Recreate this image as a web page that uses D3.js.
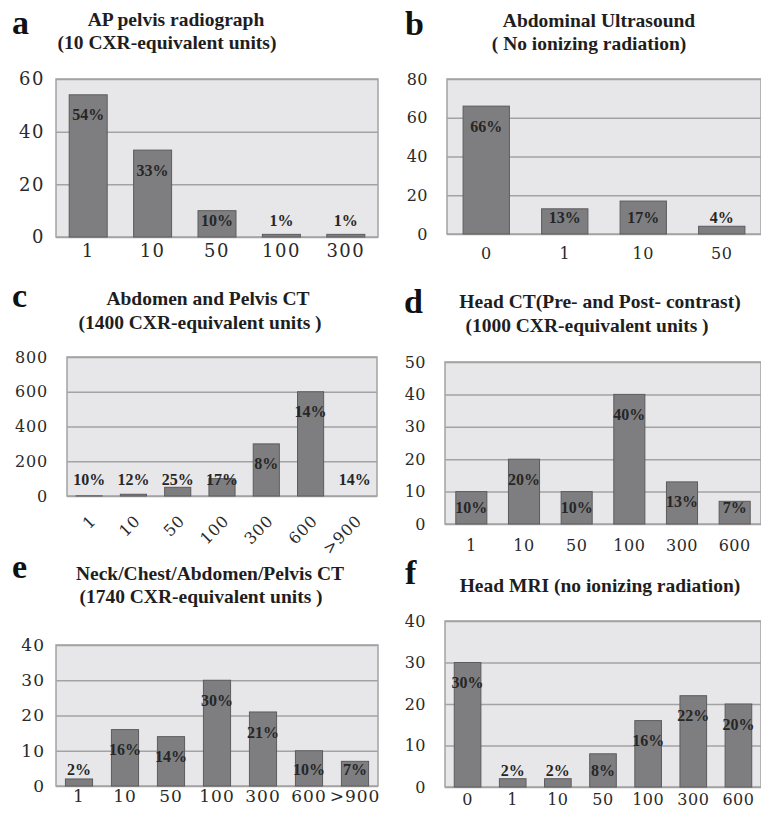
<!DOCTYPE html>
<html>
<head>
<meta charset="utf-8">
<script src="https://cdn.jsdelivr.net/npm/d3@7"></script>
<style>
  body { margin: 0; background: #fff; }
  svg { display: block; }
</style>
</head>
<body>
<svg width="761" height="819"></svg>
<script>
// panel a
var catA = ["1", "10", "50", "100", "300"],
    valA = [54, 33, 10, 1, 1],
    labA = ["54%", "33%", "10%", "1%", "1%"],
    tickA = [0, 20, 40, 60];
// panel b
var catB = ["0", "1", "10", "50"],
    valB = [66, 13, 17, 4],
    labB = ["66%", "13%", "17%", "4%"],
    tickB = [0, 20, 40, 60, 80];
// panel c
var catC = ["1", "10", "50", "100", "300", "600", ">900"],
    valC = [1, 10, 50, 100, 300, 600, 0],
    labC = ["10%", "12%", "25%", "17%", "8%", "14%", "14%"],
    tickC = [0, 200, 400, 600, 800];
// panel d
var catD = ["1", "10", "50", "100", "300", "600"],
    valD = [10, 20, 10, 40, 13, 7],
    labD = ["10%", "20%", "10%", "40%", "13%", "7%"],
    tickD = [0, 10, 20, 30, 40, 50];
// panel e
var catE = ["1", "10", "50", "100", "300", "600", ">900"],
    valE = [2, 16, 14, 30, 21, 10, 7],
    labE = ["2%", "16%", "14%", "30%", "21%", "10%", "7%"],
    tickE = [0, 10, 20, 30, 40];
// panel f
var catF = ["0", "1", "10", "50", "100", "300", "600"],
    valF = [30, 2, 2, 8, 16, 22, 20],
    labF = ["30%", "2%", "2%", "8%", "16%", "22%", "20%"],
    tickF = [0, 10, 20, 30, 40];

var svg = d3.select("svg");
svg.append("rect").attr("width", 761).attr("height", 819).attr("fill", "#fff");

var tickFont = "'DejaVu Serif', serif",
    boldFont = "'Liberation Serif', 'Times New Roman', serif";

var panels = [
  {letter: "a", lx: 12, ly: 34, titles: [["AP pelvis radiograph", 176, 26], ["(10 CXR-equivalent units)", 167, 49]],
   left: 56, right: 378, top: 79, bottom: 237, cats: catA, vals: valA, labs: labA, ticks: tickA, xpad: 19, ypad: 11, fs: 18, ls: 1.5},
  {letter: "b", lx: 405, ly: 35, titles: [["Abdominal Ultrasound", 599, 27], ["( No ionizing radiation)", 589, 50]],
   left: 447, right: 761, top: 79, bottom: 234, cats: catB, vals: valB, labs: labB, ticks: tickB, xpad: 24, ypad: 19, fs: 16, ls: 0.5},
  {letter: "c", lx: 12, ly: 307, titles: [["Abdomen and Pelvis CT", 208, 305], ["(1400 CXR-equivalent units )", 200, 329]],
   left: 67, right: 377, top: 357, bottom: 496, cats: catC, vals: valC, labs: labC, ticks: tickC, rotate: true, ypad: 19, fs: 16, ls: 0.8},
  {letter: "d", lx: 404, ly: 313, titles: [["Head CT(Pre- and Post- contrast)", 600, 308], [" (1000 CXR-equivalent units )", 587, 332]],
   left: 445, right: 761, top: 362, bottom: 524, cats: catD, vals: valD, labs: labD, ticks: tickD, xpad: 26, ypad: 19, fs: 16, ls: 0.5},
  {letter: "e", lx: 12, ly: 578, titles: [["Neck/Chest/Abdomen/Pelvis CT", 210, 580], ["(1740 CXR-equivalent units )", 201, 603]],
   left: 56, right: 378, top: 645, bottom: 786, cats: catE, vals: valE, labs: labE, ticks: tickE, xpad: 15, ypad: 11, fs: 17, ls: 1},
  {letter: "f", lx: 405, ly: 584, titles: [["Head MRI (no ionizing radiation)", 600, 592]],
   left: 445, right: 761, top: 621, bottom: 787, cats: catF, vals: valF, labs: labF, ticks: tickF, xpad: 17, ypad: 19, fs: 16, ls: 0.5}
];

function drawPanel(p) {
  var w = p.right - p.left, h = p.bottom - p.top;
  var g = svg.append("g").attr("transform", "translate(" + p.left + "," + p.top + ")");

  var x = d3.scaleBand().domain(p.cats).range([0, w]).paddingInner(0.41).paddingOuter(0.205);
  var y = d3.scaleLinear().domain([0, d3.max(p.ticks)]).range([h, 0]);

  g.append("rect").attr("width", w).attr("height", h)
    .attr("fill", "#e7e7e9").attr("stroke", "#a3a3a3").attr("stroke-width", 1.5);

  // gridlines
  var grid = g.append("g").call(d3.axisLeft(y).tickValues(p.ticks).tickSize(-w).tickFormat(""));
  grid.select(".domain").remove();
  grid.selectAll("line").attr("stroke", "#a3a3a3").attr("stroke-width", 1.5);

  // y labels
  var ya = g.append("g").call(d3.axisLeft(y).tickValues(p.ticks).tickSize(0).tickPadding(p.ypad));
  ya.select(".domain").remove();
  ya.selectAll("text").attr("font-family", tickFont).attr("font-size", p.fs)
    .attr("letter-spacing", p.ls).attr("fill", "#2a2a2a");

  // bars
  g.selectAll(".bar").data(p.vals).enter().append("rect")
    .attr("class", "bar")
    .attr("x", function(d, i) { return x(p.cats[i]); })
    .attr("width", x.bandwidth())
    .attr("y", function(d) { return y(d); })
    .attr("height", function(d) { return h - y(d); })
    .attr("fill", "#7e7e80").attr("stroke", "#5c5c5e").attr("stroke-width", 1)
    .attr("display", function(d) { return d > 0 ? null : "none"; });

  // bar labels
  g.selectAll(".lab").data(p.labs).enter().append("text")
    .attr("x", function(d, i) { return x(p.cats[i]) + x.bandwidth() / 2; })
    .attr("y", function(d, i) { return Math.min(y(p.vals[i]) + 20, h - 17); })
    .attr("dy", "0.35em")
    .attr("text-anchor", "middle")
    .attr("font-family", boldFont).attr("font-weight", "bold").attr("font-size", 16)
    .attr("fill", "#262626")
    .text(function(d) { return d; });

  // x labels
  var xa = g.append("g").attr("transform", "translate(0," + h + ")")
    .call(d3.axisBottom(x).tickSize(0).tickPadding(p.rotate ? 0 : p.xpad - 5));
  xa.select(".domain").remove();
  xa.selectAll("text").attr("font-family", tickFont).attr("font-size", p.fs)
    .attr("letter-spacing", p.ls).attr("fill", "#2a2a2a");
  if (p.rotate) {
    xa.selectAll("text")
      .attr("text-anchor", "end")
      .attr("y", 0)
      .attr("dy", "0.35em")
      .attr("transform", "translate(4,22) rotate(-45)");
  } else {
    xa.selectAll("text").attr("dy", "0.35em");
  }

  // titles
  p.titles.forEach(function(t) {
    svg.append("text").attr("x", t[1]).attr("y", t[2])
      .attr("text-anchor", "middle")
      .attr("font-family", boldFont).attr("font-weight", "bold").attr("font-size", 19.5)
      .attr("fill", "#1e1e1e")
      .text(t[0]);
  });

  svg.append("text").attr("x", p.lx).attr("y", p.ly)
    .attr("font-family", boldFont).attr("font-weight", "bold").attr("font-size", 34)
    .attr("fill", "#111")
    .text(p.letter);
}

panels.forEach(drawPanel);
</script>
</body>
</html>
